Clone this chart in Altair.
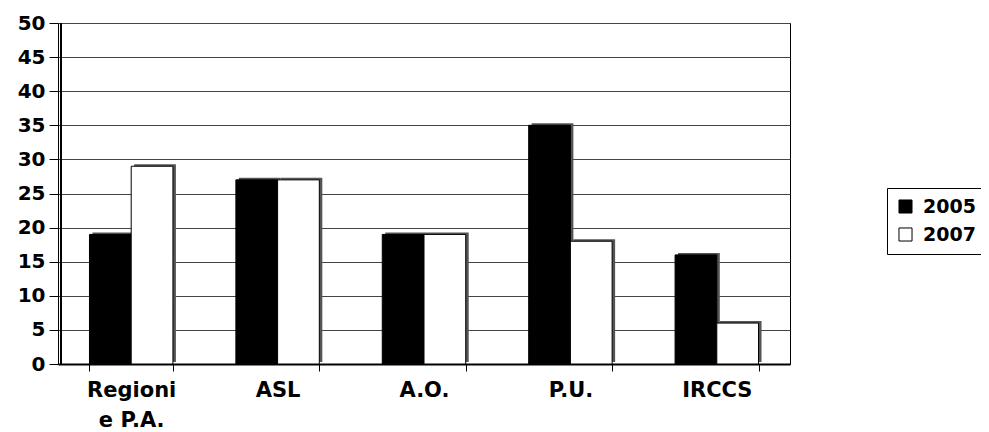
import altair as alt
import pandas as pd

categories = ["Regioni e P.A.", "ASL", "A.O.", "P.U.", "IRCCS"]
years = ["2005", "2007"]
v2005 = [19, 27, 19, 35, 16]
v2007 = [29, 27, 19, 18, 6]

rows = []
for c, a, b in zip(categories, v2005, v2007):
    rows.append({"cat": c, "anno": "2005", "val": a})
    rows.append({"cat": c, "anno": "2007", "val": b})
df = pd.DataFrame(rows)

FONT = "DejaVu Sans"
BAND = 732 / 5 * (1 - 0.43)

x = alt.X("cat:N", sort=categories, title=None,
          scale=alt.Scale(paddingInner=0.43, paddingOuter=0.215),
          axis=alt.Axis(labelAngle=0, labelFont=FONT, labelFontSize=21,
                        labelFontWeight="bold", labelColor="black",
                        labelPadding=8, tickBand="extent", tickSize=7,
                        tickColor="black", domainColor="black", domainWidth=2,
                        labelLineHeight=30,
                        labelExpr="datum.value == 'Regioni e P.A.' ? ['Regioni', 'e P.A.'] : datum.value"))
y = alt.Y("val:Q", title=None,
          scale=alt.Scale(domain=[0, 50], nice=False),
          axis=alt.Axis(values=list(range(0, 51, 5)), labelFont=FONT, labelFontSize=20,
                        labelFontWeight="bold", labelColor="black", labelPadding=4,
                        tickSize=9, tickColor="black", domainColor="black",
                        grid=True, gridColor="#444444", gridWidth=1))

shadow = alt.Chart(df).mark_bar(color="#555555", yOffset=-2).encode(
    x=x,
    xOffset=alt.XOffset("anno:N", sort=years,
                        scale=alt.Scale(paddingInner=0, paddingOuter=0,
                                        range=[3, BAND + 3])),
    y=y)

bars = alt.Chart(df).mark_bar(stroke="black", strokeWidth=1).encode(
    x=x,
    xOffset=alt.XOffset("anno:N", sort=years,
                        scale=alt.Scale(paddingInner=0, paddingOuter=0,
                                        range=[0, BAND])),
    y=y,
    color=alt.Color("anno:N", sort=years,
                    scale=alt.Scale(domain=years, range=["#000000", "#ffffff"]),
                    legend=alt.Legend(title=None, orient="none", legendX=829, legendY=165,
                                      symbolType="square", symbolSize=170,
                                      symbolStrokeColor="black", symbolStrokeWidth=1,
                                      labelFont=FONT, labelFontSize=19,
                                      labelFontWeight="bold", labelColor="black",
                                      strokeColor="black", padding=9, rowPadding=8,
                                      labelOffset=8)))

wall = alt.Chart(df).mark_rule(color="black", strokeWidth=1).encode(
    x=alt.value(3), y=alt.value(0), y2=alt.value(341))

chart = alt.layer(shadow, bars, wall).resolve_scale(xOffset="independent").properties(
    width=732, height=341,
    autosize=alt.AutoSizeParams(type="none"),
    padding={"left": 50, "top": 15, "right": 191, "bottom": 68},
).configure_view(stroke="black", strokeWidth=1)

chart.save("out.html", embed_options={"renderer": "svg", "actions": False})
